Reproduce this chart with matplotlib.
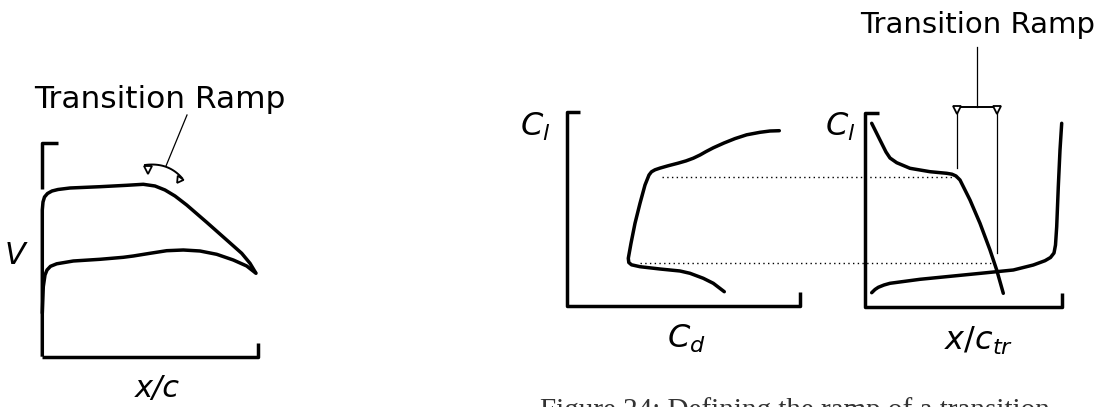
import numpy as np
import matplotlib
matplotlib.use("Agg")
import matplotlib.pyplot as plt

plt.rcParams['mathtext.fontset'] = 'dejavusans'

# sketch curves, in pixel coordinates of the drawing (y down)
v_upper_x = [42.3, 42.3, 43, 44.5, 47.5, 52, 58, 70, 100, 126.7, 143.3, 155, 165, 175, 186.7, 206.7, 226.7, 241.7, 250, 256]
v_upper_y = [356.7, 210, 202, 197, 193.5, 191, 189.5, 188, 186.7, 185.3, 184.3, 186, 190, 196, 205, 222.3, 240, 253.3, 263.3, 273.3]
v_lower_x = [256, 246.7, 233.3, 216.7, 200, 183.3, 166.7, 150, 133.3, 123.3, 100, 73.3, 56.7, 50.5, 47, 45, 43.3, 42.3]
v_lower_y = [273.3, 266, 260, 254.3, 251, 250, 250.7, 253.3, 256, 257.3, 259.3, 261, 263.8, 266.3, 270, 275, 286.7, 313]

polar_cd = [779.3, 770, 760, 746.7, 735, 724, 713.3, 706, 700, 693.3, 686, 678, 668, 660, 655, 651.5, 649, 645,
            640, 635, 631, 628.3, 628.8, 631.5, 640, 660, 680, 690, 703.3, 713.3, 724.3]
polar_cl = [130.7, 131, 132.3, 134.8, 138.6, 143, 147.8, 151.6, 155, 158.2, 160.9, 163.2, 165.8, 168.1, 169.8,
            171.8, 175, 185, 203.3, 223.3, 243.3, 258.3, 262.5, 264.8, 266.7, 269, 271, 273.3, 278.3, 283.3, 291.7]

upper_tr_x = [871.7, 880, 886, 890, 896.7, 910, 930, 946.7, 952, 956, 960, 970, 980, 990, 996.7, 1003.3]
upper_tr_y = [123.3, 140, 152, 158, 162.7, 168.3, 171.7, 173.3, 174.2, 176, 180, 200, 223.3, 250, 270, 293.3]
lower_tr_x = [871.7, 875, 878.3, 884, 890, 920, 953.3, 986.7, 1013.3, 1033.3, 1045, 1050.5, 1054, 1055.5, 1056.7, 1058.3, 1060, 1061.7]
lower_tr_y = [292.7, 289.5, 287.3, 285, 283.3, 279.3, 276, 272.7, 270, 265, 260.7, 257.5, 253, 245, 226.7, 186.7, 150, 123.3]

# cl levels carried across from the polar to the transition plot
dot_y = [177, 263]
dot_x0 = [662, 640]
dot_x1 = [955, 993]

fig = plt.figure(figsize=(11.1, 4.07), dpi=100)
ax = fig.add_axes([0, 0, 1, 1])
ax.set_xlim(0, 1110)
ax.set_ylim(407, 0)
ax.axis('off')

lw = 2.5
k = dict(color='black', lw=lw, solid_capstyle='butt', solid_joinstyle='round')
kc = dict(color='black', lw=lw, solid_capstyle='round', solid_joinstyle='round')

# axis brackets
ax.plot([58, 42, 42], [143, 143, 189], **k)
ax.plot([42, 258, 258], [357, 357, 343], **k)
ax.plot([580, 567, 567, 800, 800], [112, 112, 306, 306, 292], **k)
ax.plot([879, 865, 865, 1062, 1062], [113, 113, 307, 307, 293], **k)

ax.plot(v_upper_x, v_upper_y, **k)
ax.plot(v_lower_x, v_lower_y, **kc)
ax.plot(polar_cd, polar_cl, **kc)
ax.plot(upper_tr_x, upper_tr_y, **kc)
ax.plot(lower_tr_x, lower_tr_y, **kc)

for y, a, b in zip(dot_y, dot_x0, dot_x1):
    ax.plot([a, b], [y, y], color='black', lw=1.0, linestyle=(0, (1, 2.4)))

# transition ramp marker, left plot
t = np.linspace(0, 1, 30)
arc_x = (1 - t)**2 * 145 + 2 * (1 - t) * t * 168 + t**2 * 182
arc_y = (1 - t)**2 * 165 + 2 * (1 - t) * t * 162 + t**2 * 178
ax.plot(arc_x, arc_y, color='black', lw=1.4)
ax.plot([187, 166], [115, 166], color='black', lw=0.9)
ax.plot(148, 170, marker='v', ms=6, mfc='white', mec='black', mew=1.3)
ax.plot(179, 179, marker=(3, 0, 145), ms=6, mfc='white', mec='black', mew=1.3)

# transition ramp marker, right plot
ax.plot([977, 977], [47, 107], color='black', lw=0.9)
ax.plot([957, 997], [107, 107], color='black', lw=1.4)
ax.plot([957, 957], [113, 168], color='black', lw=0.9)
ax.plot([997, 997], [113, 253], color='black', lw=0.9)
ax.plot([957, 997], [110, 110], ls='none', marker='v', ms=6, mfc='white', mec='black', mew=1.3)

ax.text(160, 100, 'Transition Ramp', fontsize=22.5, ha='center', va='center')
ax.text(978, 25, 'Transition Ramp', fontsize=21, ha='center', va='center')

ax.text(15, 255, 'V', fontsize=22, style='italic', ha='center', va='center')
ax.text(157, 388, 'x/c', fontsize=22, style='italic', ha='center', va='center')
ax.text(535, 127, r'$C_l$', fontsize=23, ha='center', va='center')
ax.text(840, 127, r'$C_l$', fontsize=23, ha='center', va='center')
ax.text(686, 339, r'$C_d$', fontsize=23, ha='center', va='center')
ax.text(979, 341, r'$x/c_{tr}$', fontsize=23, ha='center', va='center')

ax.text(540, 397, 'Figure 24: Defining the ramp of a transition', fontsize=21,
        family='Liberation Serif', color='#333333', ha='left', va='top')

fig.savefig('out.png', dpi=100)
